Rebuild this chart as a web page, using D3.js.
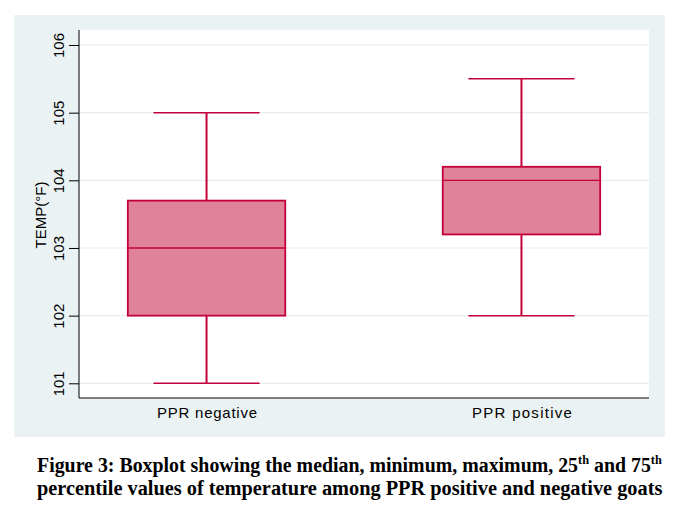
<!DOCTYPE html>
<html><head><meta charset="utf-8">
<script src="https://cdn.jsdelivr.net/npm/d3@7"></script>
<style>body{margin:0;background:#fff}svg{display:block}</style>
</head><body>
<svg id="c" width="689" height="528"></svg>
<script>
const categories = ["PPR negative", "PPR positive"];
const minVals = [101, 102];
const q1Vals = [102, 103.2];
const medianVals = [103, 104];
const q3Vals = [103.7, 104.2];
const maxVals = [105, 105.5];
const yTicks = [101, 102, 103, 104, 105, 106];
const yTitle = "TEMP(°F)";

const svg = d3.select("#c");
const stroke = "#c4003a", fill = "#e0829a", bg = "#eaf2f3", grid = "#e4ecee";

// panel
svg.append("rect").attr("x",14).attr("y",15).attr("width",651).attr("height",422).attr("fill",bg);
const L = 79, R = 649, T = 30, B = 398;
svg.append("rect").attr("x",L).attr("y",T).attr("width",R-L).attr("height",B-T).attr("fill","#fff");

const y = d3.scaleLinear().domain([101,106]).range([383.3,45]);
const x = d3.scalePoint().domain(categories).range([L,R]).padding(0.405);
const step = x.step();

// gridlines
svg.append("g").selectAll("line").data(yTicks).join("line")
  .attr("x1",L+1).attr("x2",R).attr("y1",d=>y(d)).attr("y2",d=>y(d))
  .attr("stroke",grid).attr("stroke-width",1.2);

// y axis
const yAxis = d3.axisLeft(y).tickValues(yTicks).tickSize(10).tickFormat(d3.format("d"));
const gy = svg.append("g").attr("transform",`translate(${L},0)`).call(yAxis);
gy.select(".domain").attr("d",`M0,${T}V${B}`).attr("stroke","#000");
gy.selectAll(".tick line").attr("stroke","#000");
gy.selectAll(".tick text").attr("transform","rotate(-90)")
  .attr("x",0).attr("y",-15).attr("dy",0).attr("text-anchor","middle")
  .style("font-family","Liberation Sans, Arial, sans-serif").style("font-size","15px").attr("fill","#000");

// x axis
const xAxis = d3.axisBottom(x).tickSize(0);
const gx = svg.append("g").attr("transform",`translate(0,${B})`).call(xAxis);
gx.select(".domain").attr("d",`M${L},0H${R}`).attr("stroke","#000");
gx.selectAll(".tick text").attr("y",20).attr("dy",0)
  .style("font-family","Liberation Sans, Arial, sans-serif").style("font-size","15px").attr("fill","#000")
  .attr("textLength",100).attr("lengthAdjust","spacing");

// y title
svg.append("text").attr("transform","translate(46,215) rotate(-90)").attr("text-anchor","middle")
  .style("font-family","Liberation Sans, Arial, sans-serif").style("font-size","15px").text(yTitle);

// boxes
const data = categories.map((c,i)=>({c,min:minVals[i],q1:q1Vals[i],med:medianVals[i],q3:q3Vals[i],max:maxVals[i]}));
const bw = step*0.5, cw = step*0.337;
const g = svg.append("g");
data.forEach(d=>{
  const cx = x(d.c);
  g.append("line").attr("x1",cx).attr("x2",cx).attr("y1",y(d.max)).attr("y2",y(d.q3)).attr("stroke",stroke).attr("stroke-width",2);
  g.append("line").attr("x1",cx).attr("x2",cx).attr("y1",y(d.q1)).attr("y2",y(d.min)).attr("stroke",stroke).attr("stroke-width",2);
  g.append("line").attr("x1",cx-cw/2).attr("x2",cx+cw/2).attr("y1",y(d.max)).attr("y2",y(d.max)).attr("stroke",stroke).attr("stroke-width",1.5);
  g.append("line").attr("x1",cx-cw/2).attr("x2",cx+cw/2).attr("y1",y(d.min)).attr("y2",y(d.min)).attr("stroke",stroke).attr("stroke-width",1.5);
  g.append("rect").attr("x",cx-bw/2).attr("width",bw).attr("y",y(d.q3)).attr("height",y(d.q1)-y(d.q3))
    .attr("fill",fill).attr("stroke",stroke).attr("stroke-width",1.8);
  g.append("line").attr("x1",cx-bw/2).attr("x2",cx+bw/2).attr("y1",y(d.med)).attr("y2",y(d.med)).attr("stroke",stroke).attr("stroke-width",1.3);
});

// caption
const capFont = "Liberation Serif, 'DejaVu Serif', serif";
function capLine(parts, yb, width){
  const t = svg.append("text").attr("x",0).attr("y",0)
    .style("font-family",capFont).style("font-size","21px").style("font-weight","bold").attr("fill","#000");
  parts.forEach(p=>{
    if (p.sup) t.append("tspan").attr("dy",-8).style("font-size","13px").text(p.t);
    else t.append("tspan").attr("dy", p.after ? 8 : 0).text(p.t);
  });
  const w = t.node().getComputedTextLength();
  t.attr("transform",`translate(37,${yb}) scale(${width/w},1)`);
}
capLine([{t:"Figure 3: Boxplot showing the median, minimum, maximum, 25"},{t:"th",sup:true},{t:" and 75",after:true},{t:"th",sup:true}], 472, 625);
capLine([{t:"percentile values of temperature among PPR positive and negative goats"}], 495, 626);
</script>
</body></html>
